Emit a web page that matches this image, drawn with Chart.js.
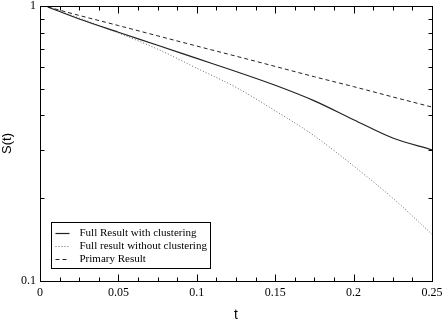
<!DOCTYPE html>
<html>
<head>
<meta charset="utf-8">
<script src="https://cdn.jsdelivr.net/npm/chart.js@4.4.1/dist/chart.umd.min.js"></script>
<style>
  html, body { margin: 0; padding: 0; background: #fff; }
  #wrap { width: 445px; height: 320px; }
</style>
</head>
<body>
<div id="wrap"><canvas id="survivalChart" width="445" height="320"></canvas></div>
<script>
var tValues = [0.005, 0.025, 0.05, 0.075, 0.1, 0.125, 0.15, 0.175, 0.2, 0.225, 0.25];
var fullWithClustering = [0.992, 0.897, 0.803, 0.720, 0.645, 0.578, 0.515, 0.452, 0.386, 0.331, 0.300];
var fullWithoutClustering = [0.992, 0.904, 0.798, 0.697, 0.594, 0.506, 0.416, 0.337, 0.262, 0.200, 0.148];
var primaryResult = [0.992, 0.924, 0.849, 0.779, 0.715, 0.657, 0.603, 0.553, 0.509, 0.467, 0.429];
var seriesLabels = ['Full Result with clustering', 'Full result without clustering', 'Primary Result'];
var xTicks = [0, 0.05, 0.1, 0.15, 0.2, 0.25];
var yTicks = [0.1, 1];

function points(values) {
    return values.map(function (v, i) { return { x: tValues[i], y: v }; });
}

var serif = '"Liberation Serif", "Times New Roman", serif';
var sans = '"Liberation Sans", Arial, sans-serif';

// frame with inward ticks on all four sides
var framePlugin = {
    id: 'frame',
    afterDatasetsDraw: function (chart) {
        var ctx = chart.ctx, a = chart.chartArea, x = chart.scales.x, y = chart.scales.y;
        var L = Math.round(a.left) + 0.5, R = Math.round(a.right) + 0.5;
        var T = Math.round(a.top) + 0.5, B = Math.round(a.bottom) + 0.5;
        ctx.save();
        ctx.strokeStyle = '#000';
        ctx.lineWidth = 1;
        ctx.strokeRect(L, T, R - L, B - T);
        ctx.beginPath();
        for (var k = 0; k <= 20; k++) {
            var v = k * 0.0125;
            var px = Math.round(x.getPixelForValue(v)) + 0.5;
            var len = (k % 4 === 0) ? 7 : 4;
            ctx.moveTo(px, B); ctx.lineTo(px, B - len);
            ctx.moveTo(px, T); ctx.lineTo(px, T + len);
        }
        for (var m = 1; m <= 10; m++) {
            var py = Math.round(y.getPixelForValue(m / 10)) + 0.5;
            var ylen = (m === 1 || m === 10) ? 7 : 4;
            ctx.moveTo(L, py); ctx.lineTo(L + ylen, py);
            ctx.moveTo(R, py); ctx.lineTo(R - ylen, py);
        }
        ctx.stroke();
        ctx.restore();
    }
};

// legend box inside the plot, lower left
var boxLegendPlugin = {
    id: 'boxLegend',
    afterDraw: function (chart) {
        var ctx = chart.ctx;
        var left = 51.5, top = 222.5, w = 159, h = 46;
        ctx.save();
        ctx.fillStyle = '#fff';
        ctx.fillRect(left, top, w, h);
        ctx.strokeStyle = '#000';
        ctx.lineWidth = 1;
        ctx.strokeRect(left, top, w, h);
        ctx.font = '11px ' + serif;
        ctx.textBaseline = 'middle';
        chart.data.datasets.forEach(function (ds, i) {
            var cy = Math.round(top + 10 + i * 13) + 0.5;
            ctx.strokeStyle = ds.borderColor;
            ctx.lineWidth = ds.borderWidth;
            ctx.setLineDash(ds.borderDash || []);
            ctx.beginPath();
            ctx.moveTo(left + 4, cy);
            ctx.lineTo(left + 18, cy);
            ctx.stroke();
            ctx.setLineDash([]);
            ctx.fillStyle = '#000';
            ctx.fillText(ds.label, left + 28, cy);
        });
        ctx.restore();
    }
};

new Chart(document.getElementById('survivalChart').getContext('2d'), {
    type: 'line',
    data: {
        datasets: [
            {
                label: seriesLabels[0],
                data: points(fullWithClustering),
                borderColor: '#222',
                borderWidth: 1.2,
                pointRadius: 0,
                cubicInterpolationMode: 'monotone'
            },
            {
                label: seriesLabels[1],
                data: points(fullWithoutClustering),
                borderColor: '#666',
                borderWidth: 1,
                borderDash: [1, 2],
                pointRadius: 0,
                cubicInterpolationMode: 'monotone'
            },
            {
                label: seriesLabels[2],
                data: points(primaryResult),
                borderColor: '#222',
                borderWidth: 1,
                borderDash: [4, 3],
                pointRadius: 0,
                cubicInterpolationMode: 'monotone'
            }
        ]
    },
    options: {
        responsive: false,
        animation: false,
        layout: { padding: { top: 6, right: 13, left: 0, bottom: 0 } },
        plugins: { legend: { display: false }, tooltip: { enabled: false } },
        scales: {
            x: {
                type: 'linear',
                min: 0,
                max: 0.25,
                grid: { display: false, drawTicks: false },
                border: { display: false },
                afterBuildTicks: function (s) { s.ticks = xTicks.map(function (v) { return { value: v }; }); },
                afterFit: function (s) { s.height = 39; s.paddingLeft = 0; s.paddingRight = 0; },
                ticks: {
                    color: '#000',
                    padding: 5,
                    font: { family: serif, size: 12 },
                    callback: function (v) { return String(Math.round(v * 100) / 100); }
                },
                title: {
                    display: true,
                    text: 't',
                    color: '#000',
                    font: { family: sans, size: 14 },
                    padding: { top: 4, bottom: -4 }
                }
            },
            y: {
                type: 'logarithmic',
                min: 0.1,
                max: 1,
                grid: { display: false, drawTicks: false },
                border: { display: false },
                afterBuildTicks: function (s) { s.ticks = yTicks.map(function (v) { return { value: v }; }); },
                afterFit: function (s) { s.width = 40; s.paddingTop = 0; s.paddingBottom = 0; },
                ticks: {
                    color: '#000',
                    padding: 4,
                    font: { family: serif, size: 12 },
                    callback: function (v) { return String(v); }
                },
                title: {
                    display: true,
                    text: 'S(t)',
                    color: '#000',
                    font: { family: sans, size: 13 },
                    padding: { top: 0, bottom: 0 }
                }
            }
        }
    },
    plugins: [framePlugin, boxLegendPlugin]
});
</script>
</body>
</html>
